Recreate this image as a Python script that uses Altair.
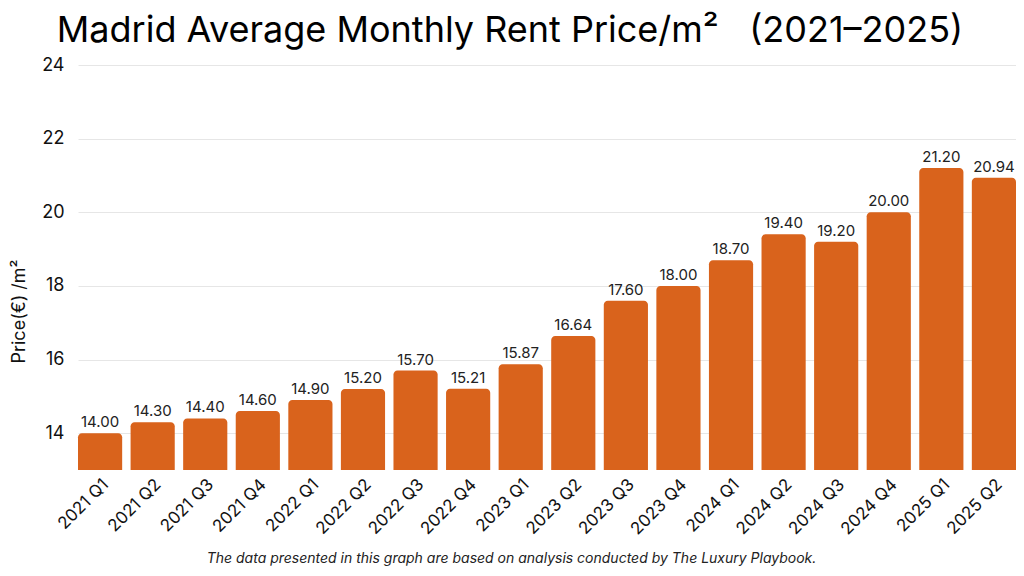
import altair as alt
import pandas as pd

quarters = ["2021 Q1", "2021 Q2", "2021 Q3", "2021 Q4",
            "2022 Q1", "2022 Q2", "2022 Q3", "2022 Q4",
            "2023 Q1", "2023 Q2", "2023 Q3", "2023 Q4",
            "2024 Q1", "2024 Q2", "2024 Q3", "2024 Q4",
            "2025 Q1", "2025 Q2"]
prices = [14.00, 14.30, 14.40, 14.60,
          14.90, 15.20, 15.70, 15.21,
          15.87, 16.64, 17.60, 18.00,
          18.70, 19.40, 19.20, 20.00,
          21.20, 20.94]
y_ticks = [14, 16, 18, 20, 22, 24]
y_floor = 13

df = pd.DataFrame({"quarter": quarters, "price": prices})

FONT = "Inter"
BAR = "#D9631C"

x_enc = alt.X("quarter:N", sort=quarters,
              scale=alt.Scale(paddingInner=0.16, paddingOuter=0.0),
              axis=alt.Axis(title="The data presented in this graph are based on analysis conducted by The Luxury Playbook.",
                            titleFont=FONT, titleFontSize=14, titleFontStyle="italic",
                            titleFontWeight="normal", titleColor="#222222",
                            titleX=433, titleY=92, titleAnchor="middle",
                            titleBaseline="alphabetic",
                            labelAngle=-45, labelFont=FONT, labelFontSize=17,
                            labelColor="#111111", labelPadding=6,
                            ticks=False, domain=False, grid=False))
y_enc = alt.Y("price:Q",
              scale=alt.Scale(domain=[y_floor, 24], nice=False, zero=False),
              axis=alt.Axis(title="Price(€) /m²", values=y_ticks,
                            titleFont=FONT, titleFontSize=18, titleFontWeight="normal",
                            titleColor="#111111", titleX=-50, titleY=246,
                            titleAngle=-90, titleAlign="center", titleBaseline="bottom",
                            labelFont=FONT, labelFontSize=18, labelColor="#111111",
                            labelPadding=14, ticks=False, domain=False,
                            grid=True, gridColor="#e6e6e6", gridWidth=1))

bars = alt.Chart(df).mark_bar(
    color=BAR, cornerRadiusTopLeft=4, cornerRadiusTopRight=4
).encode(x=x_enc, y=y_enc, y2=alt.datum(y_floor))

labels = alt.Chart(df).mark_text(dy=-11, font=FONT, fontSize=15, color="#222222").encode(
    x=x_enc, y=y_enc,
    text=alt.Text("price:Q", format=".2f")
)

chart = (bars + labels).properties(
    width=938,
    height=405,
    background="white",
    autosize=alt.AutoSizeParams(type="none"),
    padding={"left": 70, "top": 57, "right": 0, "bottom": 96},
    title=alt.TitleParams(
        "Madrid Average Monthly Rent Price/m²\u00a0\u00a0\u00a0(2021–2025)",
        font=FONT, fontSize=36, fontWeight="normal", color="#000000",
        anchor="middle", dx=-37, offset=6,
    ),
).configure_view(strokeWidth=0, stroke="transparent")

chart.save("out.html", embed_options={"renderer": "svg", "actions": False})
